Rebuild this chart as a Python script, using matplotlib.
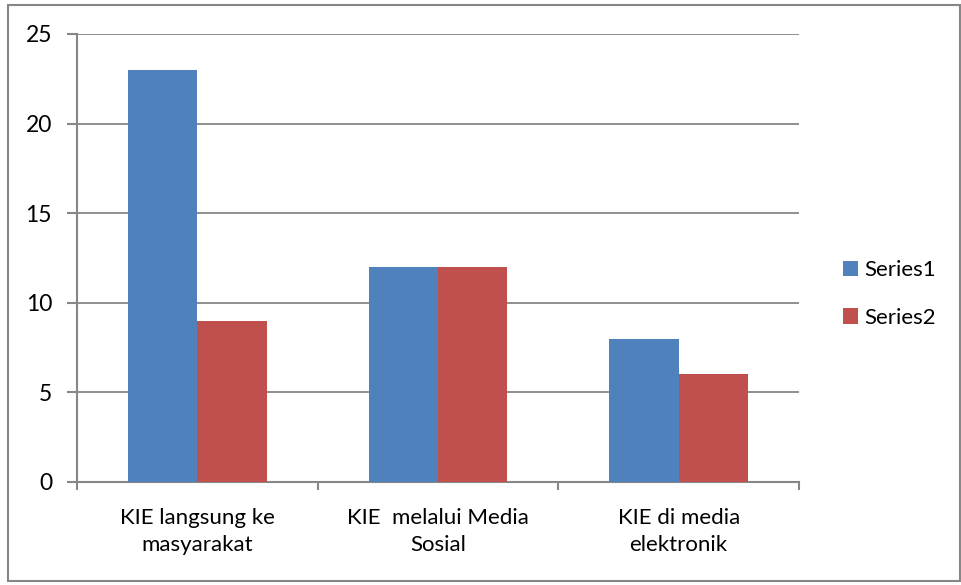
import matplotlib
matplotlib.use("Agg")
import matplotlib.pyplot as plt
from matplotlib.patches import Rectangle
import numpy as np

categories = ["KIE langsung ke\nmasyarakat", "KIE  melalui Media\nSosial", "KIE di media\nelektronik"]
series1 = [23, 12, 8]
series2 = [9, 12, 6]
series_names = ["Series1", "Series2"]
yticks = [0, 5, 10, 15, 20, 25]

plt.rcParams['font.family'] = ['Lato', 'DejaVu Sans']
W, H = 962, 585
fig = plt.figure(figsize=(W/100, H/100), dpi=100)
ax = fig.add_axes([77/W, 1-482/H, (799-77)/W, (482-34)/H])

gray = '#878787'
fs = 16
x = np.arange(len(categories))
bw = 0.2875
ax.bar(x - bw/2, series1, bw, color='#4F81BD', label=series_names[0], zorder=3)
ax.bar(x + bw/2, series2, bw, color='#C0504D', label=series_names[1], zorder=3)

ax.set_xlim(-0.5, 2.5)
ax.set_ylim(0, 25)
ax.set_yticks(yticks)
ax.set_yticklabels([str(v) for v in yticks], fontsize=16.5)
ax.set_xticks(x)
ax.set_xticklabels(categories, fontsize=fs, linespacing=1.4)
ax.set_xticks([-0.5, 0.5, 1.5, 2.5], minor=True)
ax.tick_params(axis='x', which='major', length=0, pad=19)
ax.tick_params(axis='x', which='minor', length=6, color=gray, width=1.5, direction='out')
ax.tick_params(axis='y', length=7, color=gray, width=1.5, pad=11)

for s in ['top', 'right']:
    ax.spines[s].set_visible(False)
for s in ['left', 'bottom']:
    ax.spines[s].set_color(gray)
    ax.spines[s].set_linewidth(1.5)
ax.yaxis.grid(True, color=gray, linewidth=1.3, zorder=0)
ax.set_axisbelow(True)

fig.legend(loc='center left', bbox_to_anchor=(823/W, 1-294/H), frameon=False,
           fontsize=fs, handlelength=0.68, handleheight=0.68, handletextpad=0.3,
           labelspacing=1.25)

fig.patches.append(Rectangle((8/W, 4/H), (960-8)/W, (580-4)/H, transform=fig.transFigure,
                             fill=False, edgecolor=gray, linewidth=1.5))

fig.savefig("out.png", dpi=100)
